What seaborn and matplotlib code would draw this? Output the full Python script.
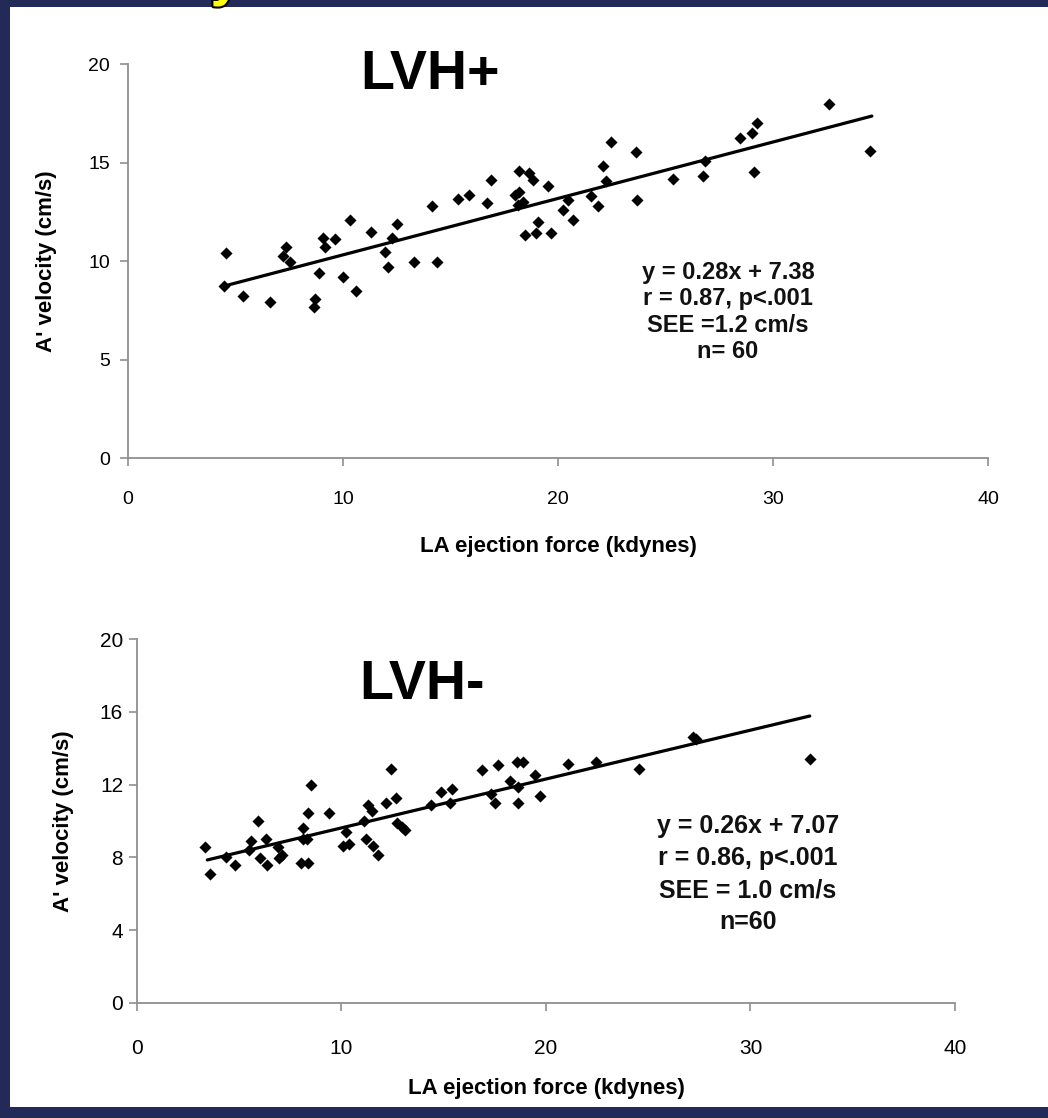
import numpy as np
import pandas as pd
import matplotlib.pyplot as plt
from matplotlib.patches import Rectangle
import matplotlib.patheffects as pe
import seaborn as sns

# LVH+ : LA ejection force (kdynes) vs A' velocity (cm/s)
pos_force = [4.54, 4.47, 5.33, 6.6, 7.35, 7.19, 7.53, 8.7, 8.65, 8.88, 9.06, 9.18,
             9.64, 9.98, 10.33, 10.6, 11.3, 11.95, 12.1, 12.26, 12.5, 13.29, 14.36,
             14.15, 15.35, 15.88, 16.71, 16.9, 18.2, 18.67, 18.82, 18.0, 18.2, 18.15,
             18.39, 18.47, 18.98, 19.07, 19.52, 19.67, 20.22, 20.45, 20.68, 21.52,
             21.88, 22.11, 22.23, 22.45, 23.61, 23.66, 25.33, 26.73, 26.85, 28.48,
             29.01, 29.26, 29.12, 32.59, 34.5]
pos_vel = [10.39, 8.73, 8.22, 7.9, 10.73, 10.27, 9.97, 8.07, 7.68, 9.39, 11.15, 10.73,
           11.1, 9.2, 12.08, 8.5, 11.45, 10.44, 9.71, 11.15, 11.9, 9.95, 9.95,
           12.78, 13.17, 13.35, 12.93, 14.1, 14.59, 14.49, 14.1, 13.35, 13.49, 12.87,
           12.98, 11.3, 11.4, 11.98, 13.8, 11.4, 12.59, 13.1, 12.08, 13.28,
           12.78, 14.82, 14.08, 16.03, 15.52, 13.1, 14.16, 14.33, 15.06, 16.27,
           16.48, 16.99, 14.5, 17.98, 15.58]
pos_line_x = [4.47, 34.6]
pos_line_y = [8.73, 17.36]
pos_stats = ["y = 0.28x + 7.38", "r = 0.87, p<.001", "SEE =1.2 cm/s", "n= 60"]
pos_yticks = [0, 5, 10, 15, 20]

# LVH- : LA ejection force (kdynes) vs A' velocity (cm/s)
neg_force = [3.33, 3.55, 4.37, 4.79, 5.57, 5.48, 5.92, 6.32, 6.01, 6.36, 6.91, 7.07,
             6.94, 8.12, 8.35, 8.51, 8.12, 8.31, 8.02, 8.35, 9.37, 10.2, 10.08, 10.37,
             11.18, 11.56, 11.8, 11.12, 11.28, 11.51, 12.16, 12.65, 12.42, 12.73,
             12.94, 13.1, 14.36, 14.88, 15.42, 15.29, 16.85, 17.65, 17.29, 17.53,
             18.24, 18.6, 18.87, 18.62, 18.65, 19.46, 19.69, 21.08, 22.46, 24.55,
             27.2, 27.32, 32.9]
neg_vel = [8.55, 7.10, 8.01, 7.60, 8.90, 8.41, 9.98, 8.99, 7.95, 7.57, 8.55, 8.12,
           7.95, 9.62, 10.42, 11.99, 8.99, 8.99, 7.71, 7.71, 10.42, 9.40, 8.63, 8.74,
           8.99, 8.63, 8.13, 10.02, 10.88, 10.57, 10.97, 11.25, 12.86, 9.91,
           9.69, 9.51, 10.88, 11.58, 11.76, 11.01, 12.80, 13.08, 11.47, 10.97,
           12.21, 13.26, 13.26, 11.01, 11.88, 12.53, 11.39, 13.12, 13.26, 12.86,
           14.63, 14.49, 13.41]
neg_line_x = [3.44, 32.9]
neg_line_y = [7.86, 15.77]
neg_stats = ["y = 0.26x + 7.07", "r = 0.86, p<.001", "SEE = 1.0 cm/s", "n=60"]
neg_yticks = [0, 4, 8, 12, 16, 20]

xticks = [0, 10, 20, 30, 40]

sns.set_style('ticks')
plt.rcParams['font.family'] = ['Liberation Sans', 'DejaVu Sans']

fig = plt.figure(figsize=(10.48, 11.18), dpi=100)
fig.patch.set_facecolor('#232a58')
# white slide panel behind both charts
fig.patches.append(Rectangle((10 / 1048, 11 / 1118), 1, 1100 / 1118, transform=fig.transFigure,
                             facecolor='white', edgecolor='none', zorder=-10))
# bottom of the cut-off slide title
fig.text(226 / 1048, 1 + 5 / 1118, 'y', fontsize=40, fontweight='bold', color='#ffff00',
         ha='center', va='baseline', zorder=-5,
         path_effects=[pe.withStroke(linewidth=3, foreground='black')])


def panel(rect, force, vel, lx, ly, yticks, tick_fs, xpad, ypad, xlab_y, ylab_x):
    ax = fig.add_axes(rect)
    ax.set_facecolor('none')
    ax.set_zorder(2)
    sns.scatterplot(x=force, y=vel, ax=ax, color='black', marker='D', s=38, linewidth=0)
    sns.lineplot(x=lx, y=ly, ax=ax, color='black', lw=2.3)
    ax.set_xlim(0, 40)
    ax.set_ylim(0, 20)
    ax.set_xticks(xticks)
    ax.set_yticks(yticks)
    for s in ['top', 'right']:
        ax.spines[s].set_visible(False)
    for s in ['left', 'bottom']:
        ax.spines[s].set_color('#8f8f8f')
        ax.spines[s].set_linewidth(1.3)
    ax.tick_params(axis='both', direction='out', length=6, width=1.2, color='#8f8f8f',
                   labelsize=tick_fs, labelcolor='black')
    ax.tick_params(axis='x', pad=xpad)
    ax.tick_params(axis='y', pad=ypad)
    ax.set_xlabel('LA ejection force (kdynes)', fontsize=16, fontweight='bold', color='black')
    ax.set_ylabel("A' velocity (cm/s)", fontsize=16, fontweight='bold', color='black')
    ax.xaxis.set_label_coords(0.5, xlab_y)
    ax.yaxis.set_label_coords(ylab_x, 0.5)
    return ax


ax1 = panel([0.1221, 0.5903, 0.8206, 0.3524], pos_force, pos_vel, pos_line_x, pos_line_y,
            pos_yticks, 14, 18, 7, -0.198, -0.082)
ax2 = panel([0.1307, 0.1029, 0.7805, 0.3255], neg_force, neg_vel, neg_line_x, neg_line_y,
            neg_yticks, 15, 20, 4, -0.205, -0.077)

fig.text(430 / 1048, 1 - 75 / 1118, 'LVH+', fontsize=40, fontweight='bold', color='black',
         ha='center', va='center')
fig.text(422 / 1048, 1 - 685 / 1118, 'LVH-', fontsize=40, fontweight='bold', color='black',
         ha='center', va='center')

for i, line in enumerate(pos_stats):
    fig.text(728 / 1048, 1 - (272 + i * 26.5) / 1118, line, fontsize=17, fontweight='bold',
             ha='center', va='center', color='#111111')
for i, line in enumerate(neg_stats):
    fig.text(748 / 1048, 1 - (826 + i * 32) / 1118, line, fontsize=18, fontweight='bold',
             ha='center', va='center', color='#111111')

plt.savefig('out.png', dpi=100, facecolor=fig.get_facecolor())
